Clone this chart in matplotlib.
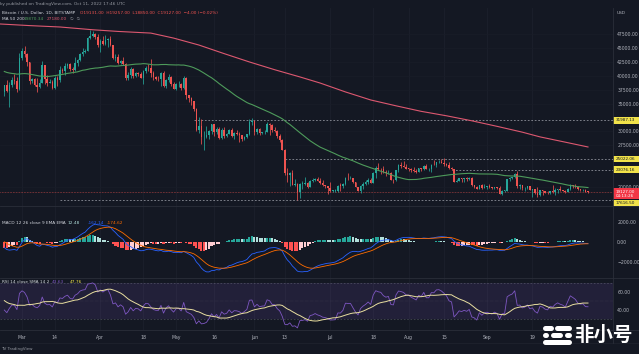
import numpy as np
import pandas as pd
import matplotlib
matplotlib.use("Agg")
import matplotlib.pyplot as plt
from matplotlib.lines import Line2D
from matplotlib.patches import Rectangle

W, H = 639, 354
BG = "#141823"
UP, DN = "#26a69a", "#ef5350"
TXT = "#b2b5be"

# ---------------- data (BTC/USD daily, Bitstamp) ----------------
# closes used only to warm up indicators (Jan 1 - Feb 21, 2022)
prior_close = [47690, 47290, 46440, 45830, 43430, 43080, 41560, 41730, 41860, 41820, 42740, 43950, 42590, 43100, 43180,
               43110, 42250, 42370, 41740, 40690, 36460, 35030, 36280, 36670, 36980, 36840, 37150, 37710, 38170, 37920, 38480,
               38740, 36950, 37150, 41500, 41410, 42410, 43840, 44120, 44340, 43570, 42410, 42200, 42200, 42590, 44580,
               43960, 40540, 40000, 40120, 38430, 37070]

# visible candles: Feb 22 - Oct 11, 2022
close = [38280, 37250, 38330, 39220, 39120, 37700, 43190,
         44420, 43910, 42450, 39150, 39400, 38420, 37990, 38730, 41940, 39420, 38730, 38810, 37780, 39670, 39280, 41110,
         40920, 41760, 42200, 41260, 41000, 42360, 42890, 43960, 44350, 44500, 46820, 47130, 47450, 47060, 45530,
         46280, 45810, 46410, 46620, 45500, 43170, 43440, 42250, 42750, 42160, 39530, 40070, 41150, 39940, 40550,
         40380, 39680, 40800, 41500, 41370, 40480, 39710, 39470, 39450, 40430, 38110, 39240, 39740, 38600, 37710,
         38470, 38530, 37750, 39690, 36550, 36010, 35470, 34060, 30300, 31020, 28940, 29030, 29280, 30100, 31310,
         29860, 30420, 28720, 30310, 29200, 29430, 30320, 29100, 29650, 29560, 29270, 28630, 29030, 29470, 31730, 31800,
         29800, 30450, 29700, 29860, 29910, 31370, 31130, 30200, 30110, 29090, 28420, 26570, 22490, 22210, 22580,
         20380, 20470, 19020, 20550, 20570, 20720, 19970, 21090, 21230, 21500, 21030, 20730, 20250, 20100, 19780,
         19290, 19300, 19330, 20220, 20190, 20550, 21630, 21580, 21590, 20820, 19970, 19320, 20210, 20570, 20830,
         21190, 20780, 22420, 23390, 23230, 23150, 22680, 22450, 22580, 21310, 21250, 22950, 23850, 23770, 23650, 23300,
         23270, 22990, 22820, 22630, 23310, 23170, 23810, 23160, 23160, 23950, 23930, 24400, 24440, 24310, 24100,
         23850, 23340, 23210, 20830, 21140, 21520, 21400, 21530, 21370, 21560, 20240, 20040, 19550, 20290, 19810, 20050,
         20130, 19950, 19830, 20000, 19800, 18790, 19290, 19320, 21370, 21650, 21830, 22400, 20180, 20240, 19700,
         19800, 20110, 19420, 19540, 18880, 18550, 19410, 19290, 18930, 18800, 19230, 19090, 19410, 19590, 19420,
         19310, 19060, 19630, 20340, 20160, 19960, 19530, 19420, 19450, 19140, 19127]

high = [38430, 39250, 38970, 39700, 40300, 39860, 44070,
        44950, 45400, 44100, 42500, 39620, 39690, 39550, 39400, 42620, 41980, 40220, 39340, 39200, 39900, 39880, 41700,
        41450, 42300, 42380, 42300, 41550, 43350, 43000, 44200, 45100, 44800, 46920, 48190, 48090, 47700, 47600,
        46700, 47200, 47400, 46880, 47200, 45530, 43900, 43950, 42800, 43410, 42400, 40700, 41560, 41460, 40700,
        40690, 40600, 40990, 41750, 42200, 42970, 40790, 39990, 39930, 40600, 40800, 39460, 40380, 39920, 38800,
        38650, 39150, 38650, 39900, 39800, 36620, 36130, 35500, 34240, 32650, 32170, 30000, 30970, 30300, 31400,
        31300, 30800, 30720, 30520, 30720, 29620, 30450, 30650, 29840, 30200, 29870, 29370, 29230, 29580, 32230, 32380,
        31980, 30650, 30670, 29950, 30150, 31750, 31560, 31330, 30690, 30320, 29460, 28570, 26900, 23330, 22740,
        22980, 21340, 20760, 20780, 21000, 21710, 20870, 21200, 21550, 21580, 21850, 21520, 21180, 20410, 20140,
        20870, 19430, 19620, 20330, 20720, 20650, 21840, 22420, 21920, 21600, 20860, 20040, 20250, 20860, 21190,
        21560, 21660, 22700, 23740, 24240, 23400, 23740, 22980, 22980, 22630, 21340, 23100, 24190, 24400, 24600, 24170,
        23460, 23420, 23630, 23200, 23440, 23340, 23900, 24200, 23410, 24160, 24880, 24440, 24870, 25050, 25200,
        24230, 24420, 23590, 23200, 21350, 21680, 21520, 21650, 21830, 21800, 21850, 20330, 20140, 20400, 20550, 20470,
        20180, 20430, 20000, 20040, 20050, 20170, 19450, 19450, 21500, 21790, 21860, 22490, 22800, 20550, 20340,
        19900, 20180, 20100, 19640, 19650, 19950, 19480, 19490, 19300, 19180, 19300, 20350, 19780, 19640, 20170,
        19470, 19390, 19700, 20460, 20350, 20450, 20060, 19600, 19520, 19530, 19257]

low = [36380, 37060, 34320, 38010, 38570, 37000, 37450,
       42830, 43350, 41850, 38600, 38650, 38100, 37160, 37870, 38650, 38540, 38250, 38690, 37600, 37580, 38120, 38900,
       40540, 40150, 41500, 40920, 40500, 40900, 41800, 42650, 43600, 44070, 44400, 46660, 46950, 46600, 45200,
       44230, 45600, 45540, 45120, 45360, 43120, 42730, 42130, 42130, 41870, 39200, 39250, 39560, 39550, 39770,
       40020, 39550, 38560, 40560, 40840, 39770, 39200, 39290, 39040, 38200, 37900, 37880, 38880, 38190, 37600,
       37400, 38070, 37520, 37670, 35860, 35280, 34780, 33720, 30030, 29730, 27700, 26700, 28750, 28650, 29500,
       29100, 29450, 28670, 28660, 28740, 28960, 29460, 28900, 28680, 29320, 28020, 28270, 28500, 28840, 29320, 31220,
       29350, 29590, 29260, 29490, 29500, 29890, 29260, 29860, 29930, 28870, 28150, 26560, 22100, 20850, 20110,
       20240, 20200, 17620, 17950, 19650, 20350, 19780, 19900, 20790, 20980, 20970, 20510, 20210, 19850, 18630,
       19000, 19030, 18990, 19050, 19330, 19800, 20290, 21180, 21340, 20650, 19880, 19250, 18920, 19620, 20370,
       20500, 20760, 20760, 21580, 23000, 22350, 22520, 21960, 22300, 21260, 20720, 21040, 22590, 23410, 23530, 23240,
       22850, 22670, 22710, 22440, 22600, 22930, 22990, 23140, 22870, 22670, 23900, 23600, 24300, 24250, 23800,
       23700, 23200, 23120, 20800, 20860, 21070, 20900, 20920, 21140, 21300, 20150, 19820, 19540, 19600, 19560, 19800,
       19650, 19770, 19650, 19600, 19650, 18680, 18540, 19030, 19300, 21100, 21360, 21570, 19860, 19640, 19500,
       19330, 19600, 19350, 18230, 18700, 18140, 18400, 18550, 18860, 18650, 18680, 18850, 18510, 18870, 19180,
       19170, 18940, 19000, 19500, 19760, 19860, 19350, 19330, 19320, 19040, 18850]

# 200-day SMA (day index, value)
ma200_day = [-2, 10, 22, 35, 45, 58, 67, 77, 87, 97, 107, 117, 125, 135, 145, 155, 165, 175, 185, 195, 205, 212, 222, 231]
ma200_val = [49350, 49050, 48800, 48300, 48000, 47700, 46800, 45550, 44000, 42500, 41100, 39800, 38700, 37100,
             35650, 34600, 33600, 32800, 31900, 30900, 29850, 29000, 28050, 27180]

levels = [31987.13, 25022.06, 23076.16, 17616.50]
level_start = [75, 111, 177, 22]
last_price = 19127.00

price_ticks = [47500, 45000, 42500, 40000, 37500, 35000, 30000, 27500, 20000]
macd_ticks = [2000, 0, -2000]
rsi_ticks = [60, 40]
x_tick_day = [7, 20, 38, 55, 68, 83, 99, 111, 129, 146, 160, 174, 191, 209]
x_tick_lbl = ["Mar", "14", "Apr", "18", "May", "16", "Jun", "13", "Jul", "18", "Aug", "15", "Sep", "19"]

assert len(close) == len(high) == len(low) == 232, (len(close), len(high), len(low))

# ---------------- indicators ----------------
n = len(close)
idx = np.arange(n)
allc = pd.Series(prior_close + close, dtype=float)
opn = np.array([prior_close[-1]] + close[:-1], float)
cl = np.array(close, float)
hi = np.maximum(np.array(high, float), np.maximum(opn, cl))
lo = np.minimum(np.array(low, float), np.minimum(opn, cl))

ma50 = allc.rolling(50).mean().values[-n:]
ema12 = allc.ewm(span=12, adjust=False).mean()
ema26 = allc.ewm(span=26, adjust=False).mean()
macd = ema12 - ema26
sig = macd.ewm(span=9, adjust=False).mean()
hist = macd - sig
hist_prev = hist.shift(1)
d = allc.diff()
ag = d.clip(lower=0).ewm(alpha=1 / 14, adjust=False).mean()
al = (-d).clip(lower=0).ewm(alpha=1 / 14, adjust=False).mean()
rsi = 100 - 100 / (1 + ag / al)
rsi_ma = rsi.rolling(14).mean()

macd_n = macd.values[-n:]
sig_n = sig.values[-n:]
hist_n = hist.values[-n:]
hprev_n = hist_prev.values[-n:]
rsi_n = rsi.values[-n:]
rsima_n = rsi_ma.values[-n:]

hcol = []
for h, p in zip(hist_n, hprev_n):
    if h >= 0:
        hcol.append("#26a69a" if h > p else "#b2dfdb")
    else:
        hcol.append("#ffcdd2" if h > p else "#ff5252")

# ---------------- figure ----------------
fig = plt.figure(figsize=(W / 100, H / 100), dpi=100, facecolor=BG)


def rect(y0, y1):
    return [0, 1 - y1 / H, 613 / W, (y1 - y0) / H]


axp = fig.add_axes(rect(8, 206))
axm = fig.add_axes(rect(206, 278), sharex=axp)
axr = fig.add_axes(rect(278, 330), sharex=axp)
XL = (-1.71, 240.9)

for ax in (axp, axm, axr):
    ax.set_facecolor(BG)
    for s in ax.spines.values():
        s.set_visible(False)
    ax.yaxis.tick_right()
    ax.tick_params(axis="y", length=0, pad=3, labelsize=3.3, labelcolor=TXT)
    ax.tick_params(axis="x", length=0)
    for dd in x_tick_day:
        ax.axvline(dd, color="#1c202c", lw=0.6, zorder=0)

axp.set_xlim(*XL)

# price pane
axp.set_ylim(16546, 52221)
axp.set_yticks(price_ticks)
axp.set_yticklabels([f"{v:.2f}" for v in price_ticks])
for v in price_ticks:
    axp.axhline(v, color="#191d28", lw=0.5, zorder=0)
cols = np.where(cl >= opn, UP, DN)
axp.vlines(idx, lo, hi, colors=cols, lw=0.55, zorder=3)
body = np.maximum(np.abs(cl - opn), 60)
axp.bar(idx, body, bottom=np.minimum(opn, cl), width=0.62, color=cols, linewidth=0, zorder=4)
axp.plot(idx, ma50, color="#4e9b5b", lw=0.8, zorder=5)
axp.plot(ma200_day, ma200_val, color="#dd5870", lw=0.8, zorder=5)
for lv, st in zip(levels, level_start):
    axp.hlines(lv, st, XL[1], colors="#a3a6af", linestyles=(0, (2.5, 2.5)), lw=0.5, zorder=2)
axp.axhline(last_price, color=DN, lw=0.45, ls=(0, (1, 1.5)), zorder=2)
axp.tick_params(axis="x", labelbottom=False)

# MACD pane
axm.set_ylim(-3564, 3564)
axm.bar(idx, hist_n, width=0.8, color=hcol, linewidth=0, zorder=2)
axm.plot(idx, macd_n, color="#2962ff", lw=0.6, zorder=3)
axm.plot(idx, sig_n, color="#ff6d00", lw=0.6, zorder=3)
axm.set_yticks(macd_ticks)
axm.set_yticklabels(["2000.00", "0.00", "\u22122000.00"])
axm.tick_params(axis="x", labelbottom=False)

# RSI pane
axr.set_ylim(17.8, 75.6)
axr.fill_between(XL, 30, 70, color="#7e57c2", alpha=0.14, lw=0, zorder=0)
axr.axhline(70, color="#787b86", lw=0.4, ls=(0, (3, 3)), alpha=0.7)
axr.axhline(30, color="#787b86", lw=0.4, ls=(0, (3, 3)), alpha=0.7)
axr.axhline(50, color="#787b86", lw=0.3, ls=(0, (1, 2)), alpha=0.5)
axr.plot(idx, rsi_n, color="#7e57c2", lw=0.6, zorder=3)
axr.plot(idx, rsima_n, color="#e9dfa0", lw=0.7, zorder=4)
axr.set_yticks(rsi_ticks)
axr.set_yticklabels(["60.00", "40.00"])
axr.set_xticks(x_tick_day)
axr.set_xticklabels(x_tick_lbl)
axr.tick_params(axis="x", length=0, pad=3.3, labelsize=3.3, labelcolor=TXT)
axr.set_xlim(*XL)


# ---------------- frame lines ----------------
def hline_px(y, x0=0, x1=W, c="#2a2e39", lw=0.6):
    fig.add_artist(Line2D([x0 / W, x1 / W], [1 - y / H] * 2, color=c, lw=lw))


def vline_px(x, y0, y1, c="#2a2e39", lw=0.6):
    fig.add_artist(Line2D([x / W] * 2, [1 - y0 / H, 1 - y1 / H], color=c, lw=lw))


hline_px(206)
hline_px(278)
hline_px(330)
hline_px(343, c="#1e222d")
vline_px(613, 8, 343)


def txt(x, y, s, size=3.1, color=TXT, **kw):
    fig.text(x / W, 1 - y / H, s, fontsize=size, color=color, va="center", ha="left", **kw)


def ypix(ax, v):
    return H - ax.transData.transform((0, v))[1]


# ---------------- price labels on the scale ----------------
yr = ypix(axp, last_price)
fig.add_artist(Rectangle((613 / W, 1 - (yr + 7.5) / H), 26 / W, 11 / H, color="#f23645", lw=0))
txt(616, yr, f"{last_price:.2f}", size=3.0, color="white")
txt(616, yr + 4.8, "04:13:26", size=3.0, color="white")
for lv in levels:
    yc = ypix(axp, lv)
    if yr - 7 < yc < yr + 11:
        yc = yr + 11.2
    fig.add_artist(Rectangle((613 / W, 1 - (yc + 3.3) / H), 26 / W, 6.6 / H, color="#f2e34a", lw=0))
    txt(615.5, yc, f"{lv:.2f}", size=3.0, color="#131722")
txt(617, 13, "USD", size=3.1)

# ---------------- legends ----------------
txt(0.5, 3.6, "ky published on TradingView.com, Oct 11, 2022 17:46 UTC", size=3.1, color="#9598a1")
txt(2, 13, "Bitcoin / U.S. Dollar, 1D, BITSTAMP", size=3.1, color="#d1d4dc")
txt(80, 13, "O19131.00  H19257.00  L18850.00  C19127.00  \u22124.00 (\u22120.02%)", size=3.1, color=DN)
txt(2, 19.5, "MA 50 200", size=3.1, color="#d1d4dc")
txt(24, 19.5, f"{ma50[-1]:.2f}", size=3.1, color="#4e9b5b")
txt(47, 19.5, f"{ma200_val[-1]:.2f}", size=3.1, color="#dd5870")
txt(70, 19.5, "\u2205  \u2205", size=3.1, color="#9598a1")

txt(2, 223, "MACD 12 26 close 9 EMA EMA", size=3.1, color="#d1d4dc")
txt(68, 223, f"{hist_n[-1]:.2f}", size=3.1, color="#b2dfdb")
txt(88, 223, f"{macd_n[-1]:.2f}", size=3.1, color="#2962ff")
txt(107, 223, f"{sig_n[-1]:.2f}", size=3.1, color="#ff6d00")

txt(2, 282, "RSI 14 close SMA 14 2", size=3.1, color="#d1d4dc")
txt(52, 282, f"{rsi_n[-1]:.2f}", size=3.1, color="#7e57c2")
txt(70, 282, f"{rsima_n[-1]:.2f}", size=3.1, color="#f2e34a")

txt(1, 349, "TV TradingView", size=3.0, color="#9598a1")

# ---------------- watermark ----------------
for (x0, x1, y) in [(545, 551, 327.5), (557, 569, 327.5),
                    (545, 546, 334.5), (553, 560, 334.5), (567, 569, 334.5),
                    (545, 569, 341.5)]:
    fig.add_artist(Line2D([x0 / W, x1 / W], [1 - y / H] * 2, color="white", lw=3.6,
                          solid_capstyle="round"))
fig.text(574 / W, 1 - 335 / H, "非小号", fontsize=14, color="white", va="center", ha="left",
         family=["Noto Sans CJK SC", "DejaVu Sans"], fontweight="bold")

fig.savefig("out.png", dpi=100, facecolor=BG)
